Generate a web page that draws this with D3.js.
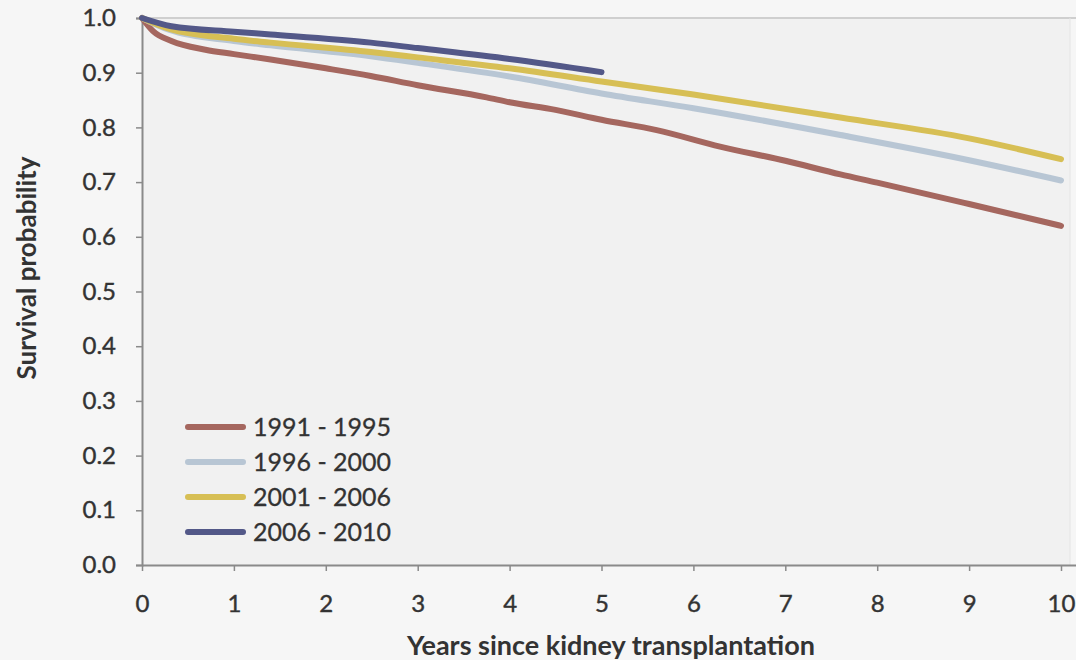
<!DOCTYPE html>
<html>
<head>
<meta charset="utf-8">
<script src="https://cdn.jsdelivr.net/npm/d3@7"></script>
<style>
  html, body { margin: 0; padding: 0; background: #f6f6f6; }
  svg { display: block; }
  text { font-family: Lato, "Open Sans", sans-serif; fill: #333; }
</style>
</head>
<body>
<svg id="chart" width="1076" height="660"></svg>
<script>
// Cohort labels and colours
const cohorts = ["1991 - 1995", "1996 - 2000", "2001 - 2006", "2006 - 2010"];
const colors = ["#a5675f", "#b8c6d4", "#d7bf55", "#535888"];

// Survival curves: years since transplantation and survival probability
const years1991 = [0, 0.12, 0.32, 0.69, 1.0, 1.4, 2.0, 2.49, 3.0, 3.75, 4.0, 4.5, 5.0, 5.6, 6.29, 7.0, 7.6, 8.0, 9.0, 10.0];
const surv1991 = [1.0, 0.976, 0.958, 0.942, 0.934, 0.924, 0.908, 0.894, 0.877, 0.855, 0.846, 0.832, 0.814, 0.795, 0.765, 0.739, 0.714, 0.699, 0.660, 0.620];

const years1996 = [0, 0.3, 1.0, 1.4, 2.49, 3.0, 4.0, 5.0, 6.0, 7.6, 9.0, 10.0];
const surv1996 = [1.0, 0.978, 0.958, 0.950, 0.930, 0.918, 0.893, 0.862, 0.835, 0.786, 0.740, 0.703];

const years2001 = [0, 0.3, 1.0, 1.4, 2.49, 3.0, 4.0, 5.0, 6.0, 7.6, 9.0, 10.0];
const surv2001 = [1.0, 0.980, 0.962, 0.955, 0.938, 0.928, 0.908, 0.884, 0.860, 0.818, 0.780, 0.742];

const years2006 = [0, 0.32, 1.0, 1.4, 2.49, 3.0, 4.0, 5.0];
const surv2006 = [1.0, 0.985, 0.975, 0.970, 0.955, 0.945, 0.925, 0.901];

const xTicks = [0, 1, 2, 3, 4, 5, 6, 7, 8, 9, 10];
const yTicks = [0, 0.1, 0.2, 0.3, 0.4, 0.5, 0.6, 0.7, 0.8, 0.9, 1.0];

const series = [
  { name: cohorts[0], color: colors[0], x: years1991, y: surv1991 },
  { name: cohorts[1], color: colors[1], x: years1996, y: surv1996 },
  { name: cohorts[2], color: colors[2], x: years2001, y: surv2001 },
  { name: cohorts[3], color: colors[3], x: years2006, y: surv2006 }
];

const svg = d3.select("#chart");
const margin = { left: 142, right: 6, top: 18, bottom: 95 };
const W = 1076, H = 660;

const x = d3.scaleLinear().domain([0, 10]).range([margin.left, 1061]);
const y = d3.scaleLinear().domain([0, 1]).range([565, margin.top]);

// Plot area background and frame
svg.append("rect")
  .attr("x", margin.left).attr("y", margin.top)
  .attr("width", W - margin.right - margin.left)
  .attr("height", 565 - margin.top)
  .attr("fill", "#f1f1f1");
svg.append("line")
  .attr("x1", margin.left).attr("x2", W)
  .attr("y1", margin.top).attr("y2", margin.top)
  .attr("stroke", "#cfcfcf").attr("stroke-width", 2);
svg.append("line")
  .attr("x1", W - margin.right).attr("x2", W - margin.right)
  .attr("y1", margin.top).attr("y2", 565)
  .attr("stroke", "#e4e4e4").attr("stroke-width", 1);

// Axes
const xAxis = d3.axisBottom(x).tickValues(xTicks).tickFormat(d3.format("d"))
  .tickSize(6).tickPadding(24);
const yAxis = d3.axisLeft(y).tickValues(yTicks).tickFormat(d3.format(".1f"))
  .tickSize(6).tickPadding(20);

const gx = svg.append("g").attr("transform", "translate(0,565)").call(xAxis);
gx.select(".domain").attr("d", `M${margin.left},0.5H${W}`);
const gy = svg.append("g").attr("transform", `translate(${margin.left},0)`).call(yAxis);

[gx, gy].forEach(g => {
  g.select(".domain").attr("stroke", "#8a8a8a").attr("stroke-width", 2);
  g.selectAll(".tick line").attr("stroke", "#8a8a8a").attr("stroke-width", 1.5);
  g.selectAll(".tick text")
    .style("font-family", "Lato, 'Open Sans', sans-serif")
    .style("font-size", "24px").style("fill", "#333")
    .style("stroke", "#333").style("stroke-width", 0.4);
});

// Axis titles
svg.append("text")
  .attr("x", 611).attr("y", 655)
  .attr("text-anchor", "middle")
  .style("font-size", "27px").style("font-weight", "bold")
  .text("Years since kidney transplantation");
svg.append("text")
  .attr("transform", "translate(36,268) rotate(-90)")
  .attr("text-anchor", "middle")
  .style("font-size", "26px").style("font-weight", "bold")
  .text("Survival probability");

// Survival curves
const line = d3.line()
  .x(d => x(d[0]))
  .y(d => y(d[1]))
  .curve(d3.curveMonotoneX);

series.forEach(s => {
  const pts = s.x.map((v, i) => [v, s.y[i]]);
  svg.append("path")
    .datum(pts)
    .attr("fill", "none")
    .attr("stroke", s.color)
    .attr("stroke-width", 6)
    .attr("stroke-linecap", "round")
    .attr("stroke-linejoin", "round")
    .attr("d", line);
});

// Legend
const legend = svg.append("g").attr("transform", "translate(188,427)");
series.forEach((s, i) => {
  const g = legend.append("g").attr("transform", `translate(0,${i * 35})`);
  g.append("line")
    .attr("x1", 0).attr("x2", 55).attr("y1", 0).attr("y2", 0)
    .attr("stroke", s.color).attr("stroke-width", 6)
    .attr("stroke-linecap", "round");
  g.append("text")
    .attr("x", 65).attr("y", 9)
    .style("font-size", "25px")
    .style("stroke", "#333").style("stroke-width", 0.3)
    .text(s.name);
});
</script>
</body>
</html>
